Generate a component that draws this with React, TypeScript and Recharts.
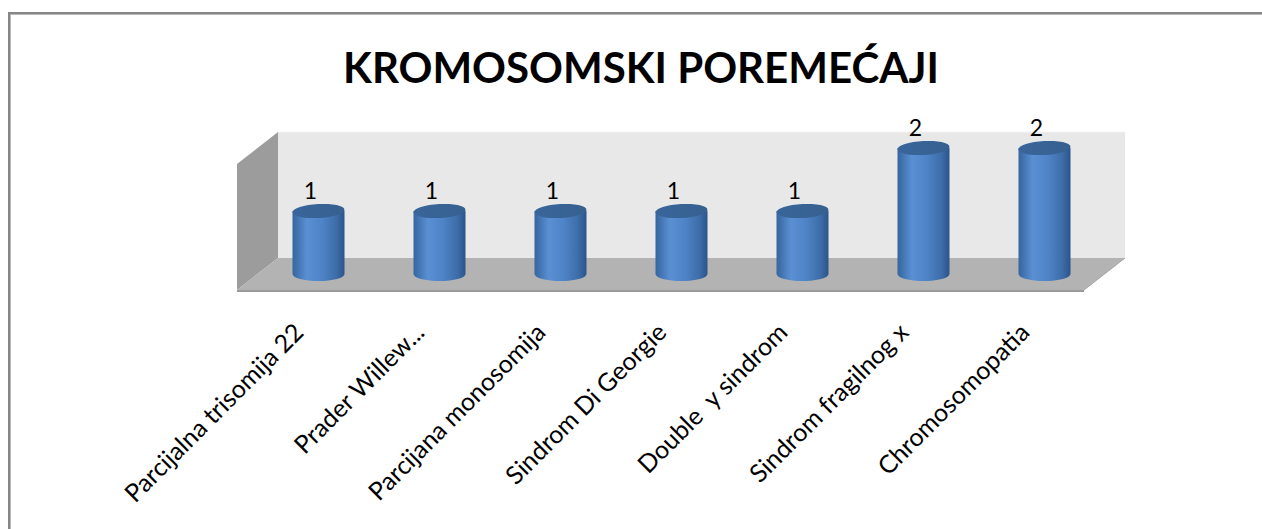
import React from "react"
import { BarChart, Bar, XAxis, YAxis, ReferenceArea, LabelList } from "recharts"

// ─── Data ─────────────────────────────────────────────────────────────────────

const categories = [
  "Parcijalna trisomija 22",
  "Prader Willew...",
  "Parcijana monosomija",
  "Sindrom Di Georgie",
  "Double  y sindrom",
  "Sindrom fragilnog x",
  "Chromosomopatia",
]
const counts = [1, 1, 1, 1, 1, 2, 2]

const chartData = categories.map((name, i) => ({ name, value: counts[i] }))

// ─── Look ─────────────────────────────────────────────────────────────────────

const FONT = "Lato, 'Open Sans', sans-serif"
const DEPTH_X = 20.5 // half depth of the 3D floor
const DEPTH_Y = 16

// back wall, side wall and floor, derived from the plot rect
function Walls(props: any) {
  const { x, y, width: w, height: h } = props
  const bx = x + DEPTH_X, by = y - DEPTH_Y
  const fx = x - DEPTH_X, fy = y + DEPTH_Y
  return (
    <g>
      <polygon points={`${bx},${by} ${bx + w},${by} ${bx + w},${by + h} ${bx},${by + h}`} fill="#e8e8e8" />
      <line x1={bx} y1={by} x2={bx + w} y2={by} stroke="#f2f2f2" strokeWidth={1} />
      <polygon points={`${bx},${by} ${bx},${by + h} ${fx},${fy + h} ${fx},${fy}`} fill="#9c9c9c" />
      <polygon points={`${bx},${by + h} ${bx + w},${by + h} ${fx + w},${fy + h} ${fx},${fy + h}`} fill="#b3b3b3" />
      <line x1={fx} y1={fy + h + 1} x2={fx + w} y2={fy + h + 1} stroke="#9a9a9a" strokeWidth={2} />
      <line x1={fx + w} y1={fy + h} x2={bx + w} y2={by + h} stroke="#a5a5a5" strokeWidth={1} />
    </g>
  )
}

function Cylinder(props: any) {
  const { x, y, width: w, height: h } = props
  const rx = w / 2, ry = 7
  const cx = x + rx
  return (
    <g>
      <path
        d={`M${x},${y} L${x},${y + h} A${rx},${ry} 0 0 0 ${x + w},${y + h} L${x + w},${y} Z`}
        fill="url(#cylBody)"
      />
      <ellipse cx={cx} cy={y} rx={rx} ry={ry} fill="url(#cylTop)" transform={`rotate(-3, ${cx}, ${y})`} />
    </g>
  )
}

function ValueLabel(props: any) {
  const { x, y, width, value } = props
  return (
    <text x={x + width / 2 - 8} y={y - 12} textAnchor="middle" fontFamily={FONT} fontSize={23} fill="#000">
      {value}
    </text>
  )
}

function CategoryTick(props: any) {
  const { x, y, payload } = props
  const ax = x - 13
  const ay = y + 52
  return (
    <text
      x={ax}
      y={ay}
      textAnchor="end"
      transform={`rotate(-45, ${ax}, ${ay})`}
      fontFamily={FONT}
      fontSize={25}
      fill="#000"
      style={{ whiteSpace: "pre" }}
    >
      {payload.value}
    </text>
  )
}

export default function App() {
  return (
    <div style={{ position: "absolute", left: 0, top: 0, width: 1262, height: 529, overflow: "hidden", background: "#fff" }}>
      <div
        style={{
          position: "absolute", left: 8, top: 12, width: 1320, height: 600,
          border: "2px solid #858585", boxShadow: "inset 1px 1px 0 #b8b8b8",
        }}
      />
      <div
        style={{
          position: "absolute", left: 0, top: 42, width: 1282, textAlign: "center",
          fontFamily: FONT, fontWeight: 700, fontSize: 42, color: "#000",
        }}
      >
        KROMOSOMSKI POREMEĆAJI
      </div>
      <div style={{ position: "absolute", left: 0, top: 0 }}>
        <BarChart
          width={1262}
          height={529}
          data={chartData}
          margin={{ top: 148, right: 157.5, bottom: 0, left: 257.5 }}
          barSize={52}
        >
          <defs>
            <linearGradient id="cylBody" x1="0" y1="0" x2="1" y2="0">
              <stop offset="0%" stopColor="#36659f" />
              <stop offset="28%" stopColor="#5a90d3" />
              <stop offset="55%" stopColor="#4f85c8" />
              <stop offset="85%" stopColor="#3d6ca8" />
              <stop offset="100%" stopColor="#2b5489" />
            </linearGradient>
            <linearGradient id="cylTop" x1="0" y1="0" x2="1" y2="0">
              <stop offset="0%" stopColor="#3a659b" />
              <stop offset="100%" stopColor="#35608f" />
            </linearGradient>
          </defs>
          <XAxis
            dataKey="name"
            axisLine={false}
            tickLine={false}
            interval={0}
            height={255}
            tick={<CategoryTick />}
          />
          <YAxis hide domain={[0, 2]} />
          <ReferenceArea y1={0} y2={2} ifOverflow="visible" shape={<Walls />} />
          <Bar dataKey="value" shape={<Cylinder />} isAnimationActive={false}>
            <LabelList dataKey="value" content={<ValueLabel />} />
          </Bar>
        </BarChart>
      </div>
    </div>
  )
}
